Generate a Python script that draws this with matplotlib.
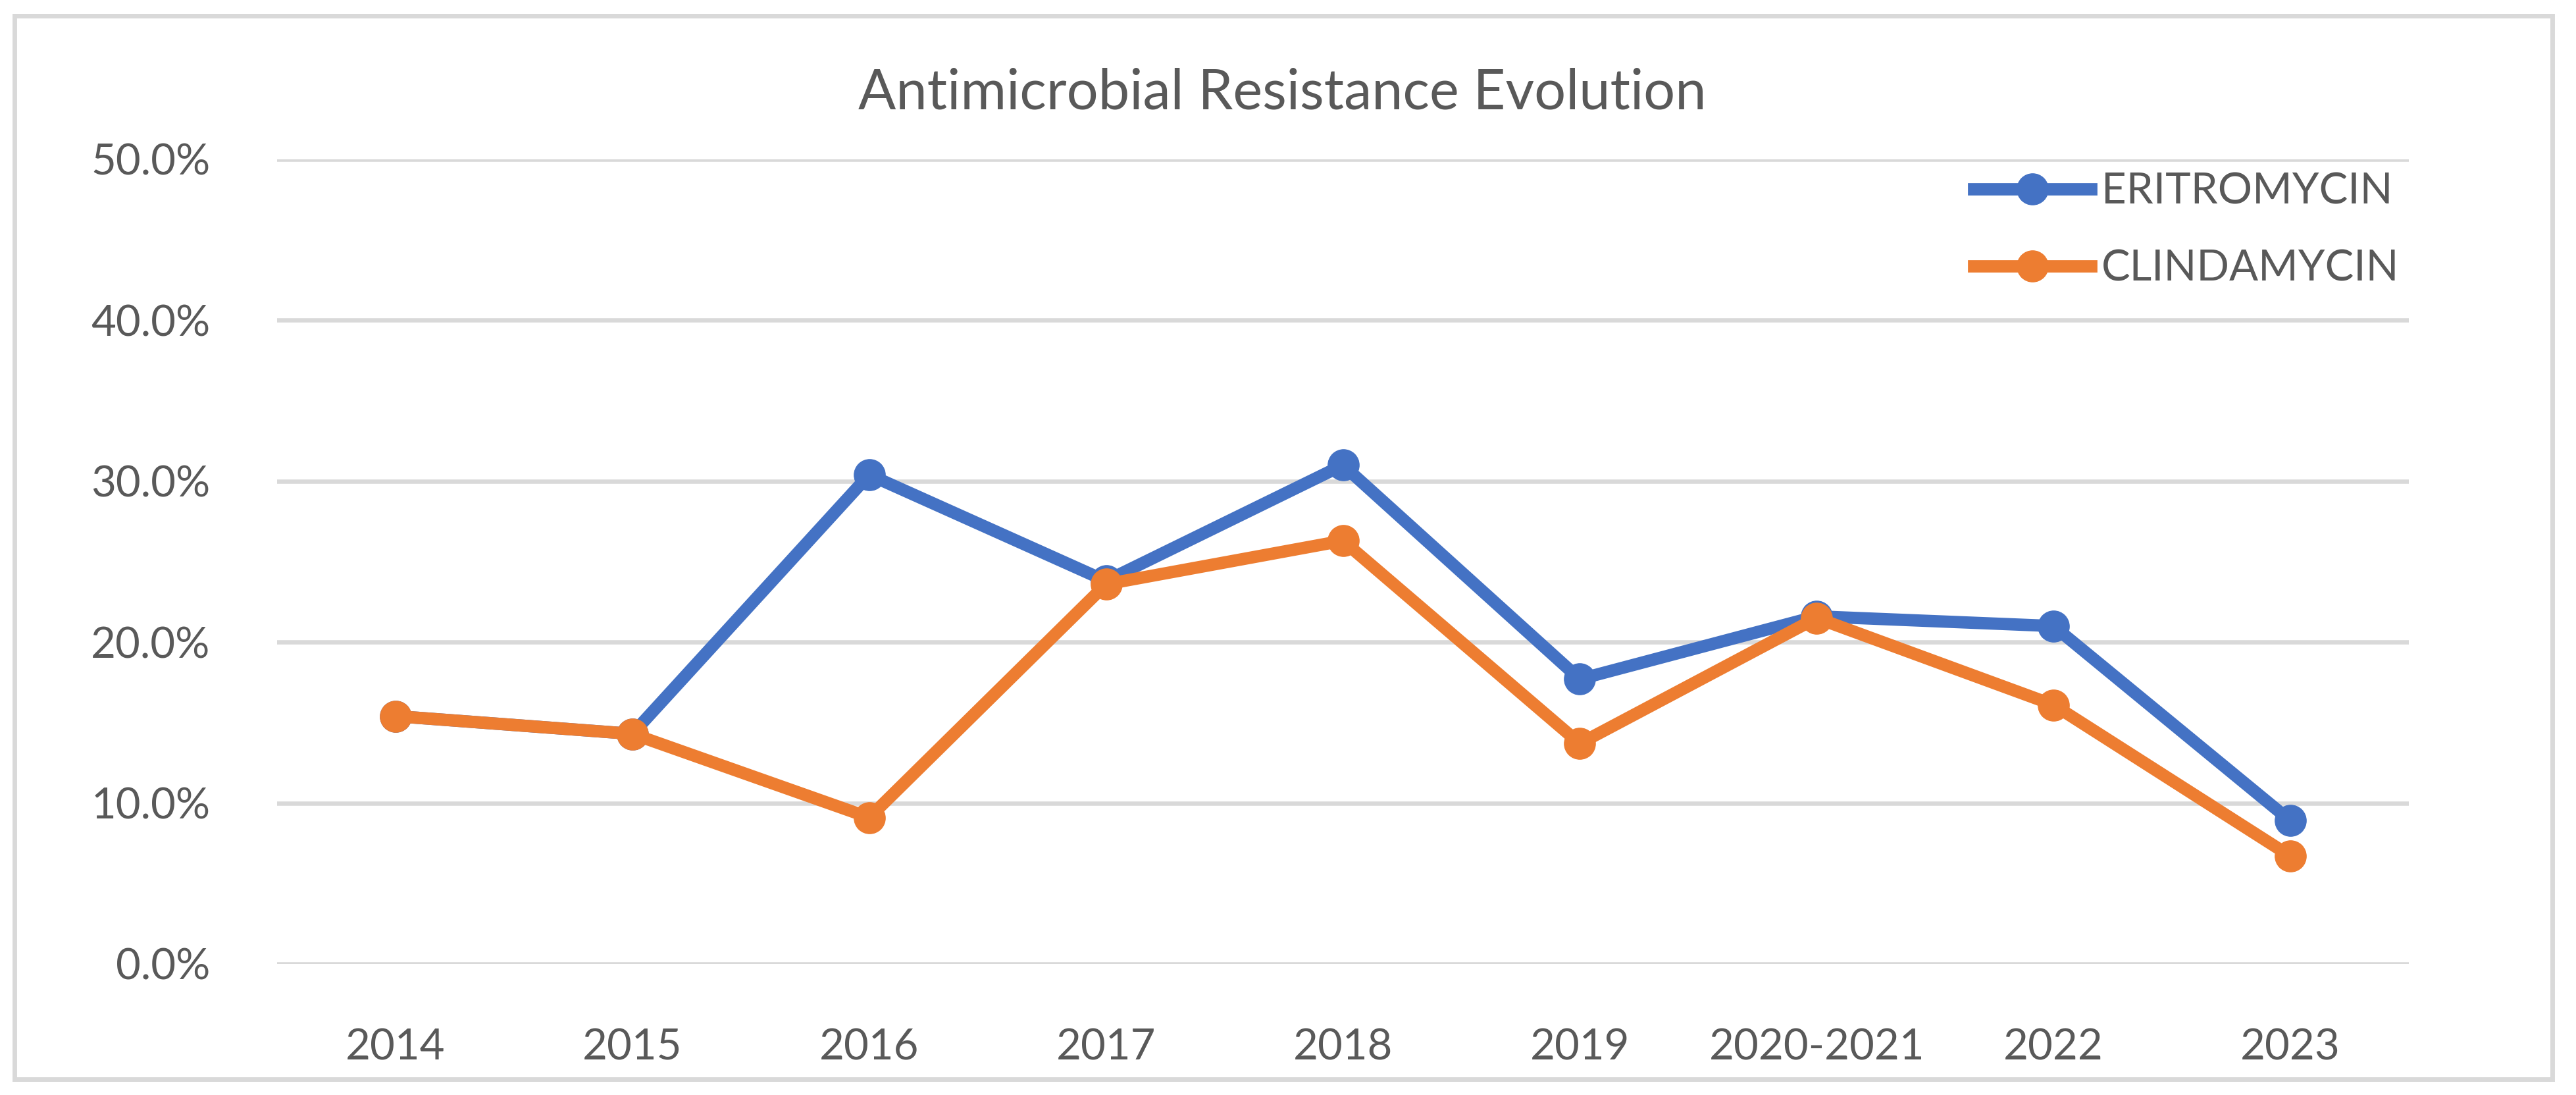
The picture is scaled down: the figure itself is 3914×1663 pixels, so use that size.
import numpy as np
import matplotlib
matplotlib.use("Agg")
import matplotlib.pyplot as plt
from matplotlib.patches import Rectangle
from matplotlib.ticker import FuncFormatter

# ---- data ----
years = ["2014", "2015", "2016", "2017", "2018", "2019", "2020-2021", "2022", "2023"]
eritromycin = [15.4, 14.3, 30.4, 23.8, 31.0, 17.7, 21.6, 21.0, 8.9]
clindamycin = [15.4, 14.3, 9.1, 23.6, 26.3, 13.7, 21.5, 16.1, 6.7]
y_ticks = [0, 10, 20, 30, 40, 50]

BLUE = "#4472C4"
ORANGE = "#ED7D31"
TXT = "#595959"
GRID = "#D9D9D9"

plt.rcParams["font.family"] = ["Lato", "DejaVu Sans"]

W, H = 3914, 1663
fig = plt.figure(figsize=(W / 100, H / 100), dpi=100)

# outer chart frame
fig.patches.append(Rectangle((22 / W, 24 / H), (3878 - 22) / W, (1639 - 24) / H,
                             transform=fig.transFigure, fill=False,
                             edgecolor=GRID, linewidth=5))

# plot area in pixel coords
x0, x1, ytop, ybot = 421, 3660, 242, 1464
ax = fig.add_axes([x0 / W, (H - ybot) / H, (x1 - x0) / W, (ybot - ytop) / H])

x = np.arange(len(years))
ax.plot(x, eritromycin, color=BLUE, lw=13.5, marker="o", ms=34,
        solid_joinstyle="round", label="ERITROMYCIN", zorder=3)
ax.plot(x, clindamycin, color=ORANGE, lw=13.5, marker="o", ms=34,
        solid_joinstyle="round", label="CLINDAMYCIN", zorder=4)

ax.set_xlim(-0.5, len(years) - 0.5)
ax.set_ylim(0, 50)
ax.set_yticks(y_ticks)
ax.yaxis.set_major_formatter(FuncFormatter(lambda v, p: f"{v:.1f}%"))
ax.set_xticks(x)
ax.set_xticklabels(years)
ax.tick_params(axis="both", length=0, labelsize=47, labelcolor=TXT)
ax.tick_params(axis="y", pad=73)
ax.tick_params(axis="x", pad=70)
ax.grid(axis="y", color=GRID, lw=4.7, zorder=0)
ax.set_axisbelow(True)
for s in ax.spines.values():
    s.set_visible(False)

fig.text(1948 / W, 1 - 142 / H, "Antimicrobial Resistance Evolution",
         ha="center", va="center", fontsize=61, color=TXT)

leg = ax.legend(loc="upper left", bbox_to_anchor=(2999 / W, 1 - 262 / H),
                bbox_transform=fig.transFigure, frameon=False, fontsize=47,
                handlelength=2.72, handletextpad=0.25, labelspacing=0.88,
                borderpad=0, borderaxespad=0, numpoints=1)
for t in leg.get_texts():
    t.set_color(TXT)

fig.savefig("out.png", dpi=100)
